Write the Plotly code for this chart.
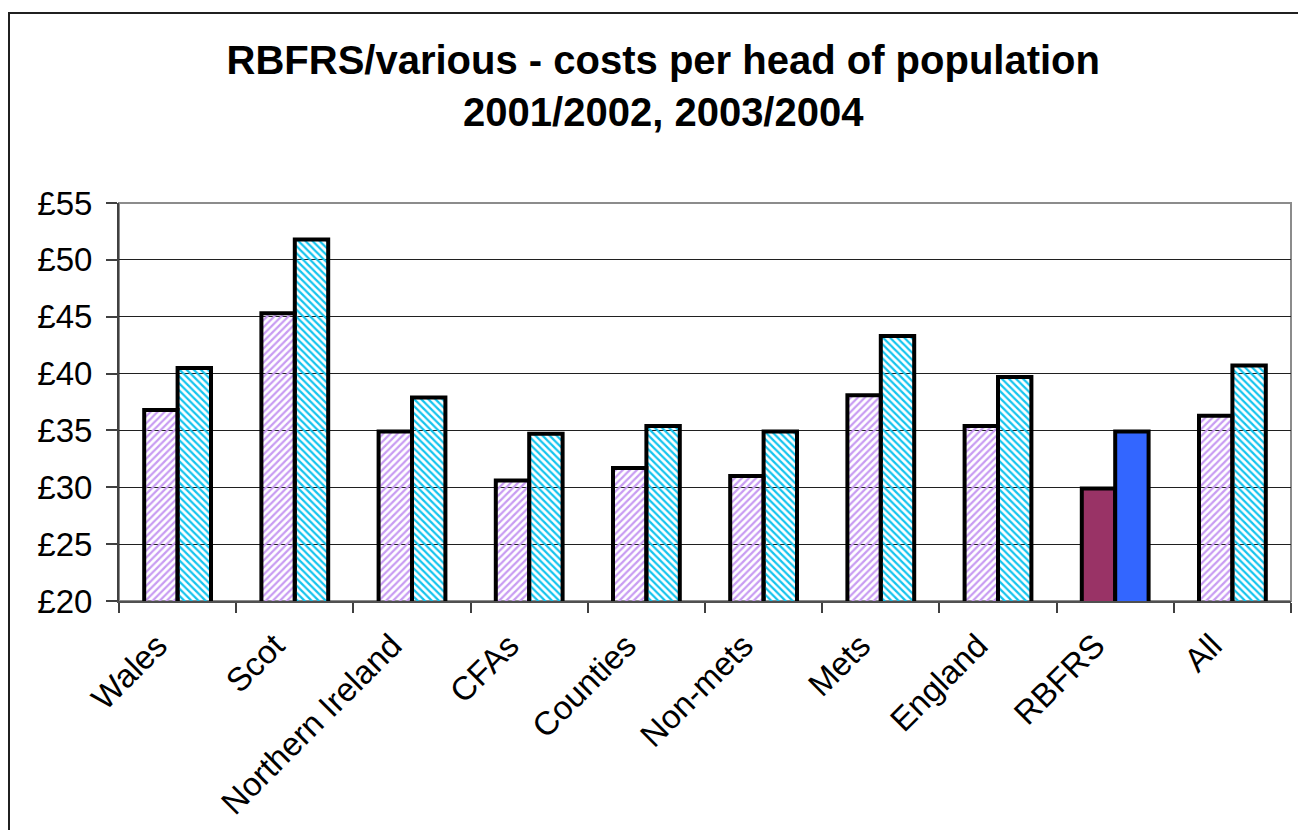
import plotly.graph_objects as go

categories = ["Wales", "Scot", "Northern Ireland", "CFAs", "Counties",
              "Non-mets", "Mets", "England", "RBFRS", "All"]
costs_2001_02 = [36.8, 45.3, 34.9, 30.6, 31.7, 31.0, 38.1, 35.4, 29.9, 36.3]
costs_2003_04 = [40.5, 51.8, 37.9, 34.7, 35.4, 34.9, 43.3, 39.7, 34.9, 40.7]
y_ticks = [20, 25, 30, 35, 40, 45, 50, 55]
y_tick_labels = ["£20", "£25", "£30", "£35", "£40", "£45", "£50", "£55"]
highlight = "RBFRS"

W, H = 1298, 830
ML, MR, MT, MB = 119, 7, 203, 229
FONT = "Liberation Sans, Arial, sans-serif"

LAV, CYAN = "#C89CF2", "#14C4EE"
col1 = ["#993366" if c == highlight else LAV for c in categories]
shape1 = ["" if c == highlight else "/" for c in categories]
col2 = ["#3366FF" if c == highlight else CYAN for c in categories]
shape2 = ["" if c == highlight else "\\" for c in categories]

fig = go.Figure()
fig.add_trace(go.Bar(
    x=categories, y=costs_2001_02, name="2001/2002",
    marker=dict(color=col1, line=dict(color="black", width=4),
                pattern=dict(shape=shape1, fgcolor=LAV, bgcolor="white",
                             fillmode="replace", size=5, solidity=0.45, fgopacity=1)),
))
fig.add_trace(go.Bar(
    x=categories, y=costs_2003_04, name="2003/2004",
    marker=dict(color=col2, line=dict(color="black", width=4),
                pattern=dict(shape=shape2, fgcolor=CYAN, bgcolor="white",
                             fillmode="replace", size=5, solidity=0.45, fgopacity=1)),
))

pw = W - ML - MR
ph = H - MT - MB
# outer chart border (left/top visible)
fig.add_shape(type="rect", xref="paper", yref="paper",
              x0=(9 - ML) / pw, x1=(W + 20 - ML) / pw,
              y0=(H - MB - (H + 20)) / ph, y1=(H - MB - 13) / ph,
              line=dict(color="#202020", width=2), layer="below")
# plot area border (grey)
fig.add_shape(type="rect", xref="paper", yref="paper", x0=0, x1=1, y0=0, y1=1,
              line=dict(color="#8C8C8C", width=2), layer="below")

fig.update_layout(
    width=W, height=H,
    margin=dict(l=ML, r=MR, t=MT, b=MB, pad=0),
    paper_bgcolor="white", plot_bgcolor="white",
    barmode="group", bargap=0.43, bargroupgap=0,
    showlegend=False,
    font=dict(family=FONT, color="black"),
    title=dict(text="<b>RBFRS/various - costs per head of population<br>2001/2002, 2003/2004</b>",
               x=0.511, xanchor="center", y=1 - 74 / H, yanchor="middle",
               font=dict(family=FONT, size=40, color="black")),
    xaxis=dict(type="category", tickson="boundaries", ticks="outside", ticklen=10,
               tickwidth=1.5, tickcolor="#404040", showline=True, linecolor="#505050",
               linewidth=2, tickangle=-45, tickfont=dict(family=FONT, size=33, color="black"),
               ticklabelshift=-20, ticklabelstandoff=10, showgrid=False),
    yaxis=dict(range=[20, 55], tickvals=y_ticks, ticktext=y_tick_labels, ticks="outside",
               ticklen=11, tickwidth=1.5, tickcolor="#404040", showline=True,
               linecolor="#404040", linewidth=2, showgrid=True, gridcolor="#202020",
               gridwidth=1, tickfont=dict(family=FONT, size=33, color="black"),
               ticklabelstandoff=7, zeroline=False),
)

fig.write_html("out.html")
